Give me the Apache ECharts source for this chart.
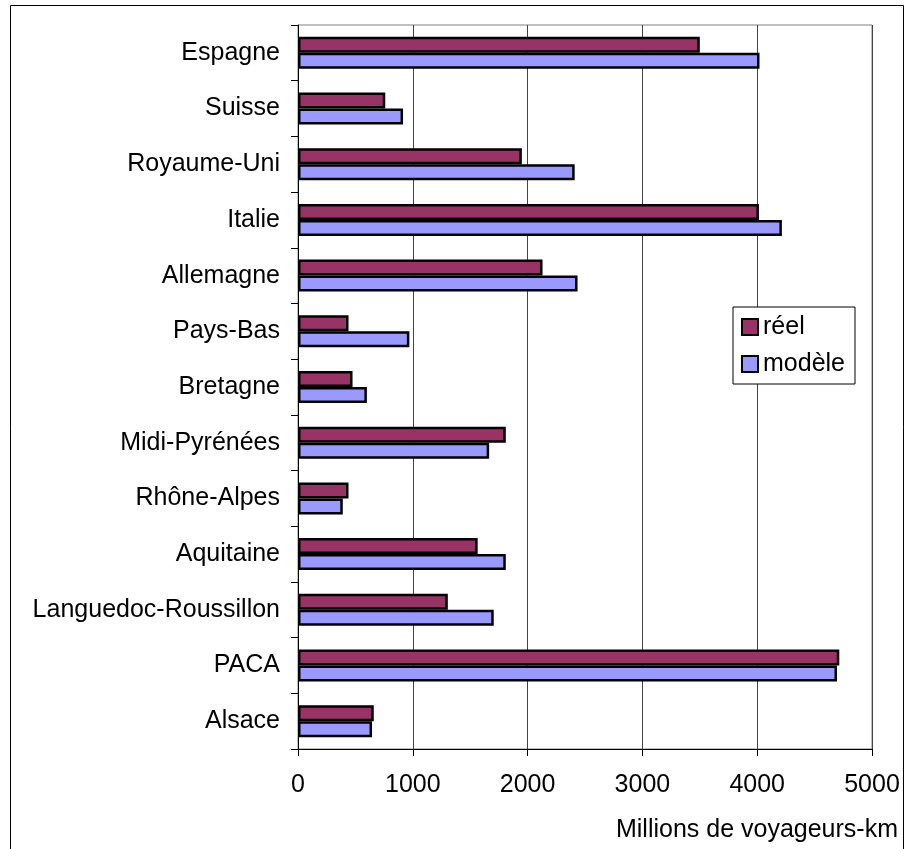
<!DOCTYPE html>
<html>
<head>
<meta charset="utf-8">
<script src="https://cdn.jsdelivr.net/npm/echarts@6/dist/echarts.min.js"></script>
<style>
  html, body { margin: 0; padding: 0; background: #fff; }
  #chart { width: 907px; height: 849px; }
</style>
</head>
<body>
<div id="chart"></div>
<script>
// Regions, listed top to bottom
const regions = ['Espagne', 'Suisse', 'Royaume-Uni', 'Italie', 'Allemagne', 'Pays-Bas',
  'Bretagne', 'Midi-Pyrénées', 'Rhône-Alpes', 'Aquitaine', 'Languedoc-Roussillon', 'PACA', 'Alsace'];

// Passenger traffic, millions of passenger-km
const reel = [3500, 760, 1950, 4015, 2130, 440, 475, 1810, 440, 1565, 1305, 4715, 660];
const modele = [4020, 915, 2410, 4215, 2435, 970, 600, 1665, 390, 1810, 1705, 4695, 645];

const xTicks = [0, 1000, 2000, 3000, 4000, 5000];
const axisTitle = 'Millions de voyageurs-km';

const FONT = '"Liberation Sans", Arial, sans-serif';
const FS = 25;
const chart = echarts.init(document.getElementById('chart'), null, { renderer: 'canvas' });

chart.setOption({
  animation: false,
  backgroundColor: '#fff',
  textStyle: { fontFamily: FONT },
  grid: {
    left: 298, right: 35, top: 25, bottom: 100,
    show: true, borderColor: '#808080', borderWidth: 1, backgroundColor: 'transparent'
  },
  legend: {
    orient: 'vertical',
    left: 733, top: 307,
    padding: [7, 10, 7, 8],
    itemGap: 11,
    itemWidth: 16, itemHeight: 16,
    icon: 'rect',
    borderColor: '#000', borderWidth: 1, backgroundColor: '#fff',
    itemStyle: { borderColor: '#000', borderWidth: 2 },
    textStyle: { fontFamily: FONT, fontSize: FS, color: '#000', lineHeight: 26 },
    data: ['réel', 'modèle']
  },
  xAxis: {
    type: 'value',
    min: xTicks[0], max: xTicks[xTicks.length - 1], interval: 1000,
    axisLine: { show: true, lineStyle: { color: '#000', width: 1 } },
    axisTick: { show: true, length: 7, lineStyle: { color: '#000' } },
    axisLabel: {
      fontFamily: FONT, fontSize: FS, color: '#000', margin: 24,
      formatter: (v) => String(v)
    },
    splitLine: { show: true, lineStyle: { color: '#444', width: 1 } }
  },
  yAxis: {
    type: 'category',
    inverse: true,
    data: regions,
    axisLine: { show: true, lineStyle: { color: '#000', width: 1 } },
    axisTick: { show: true, length: 7, lineStyle: { color: '#000' } },
    axisLabel: { fontFamily: FONT, fontSize: FS, color: '#000', margin: 18 },
    splitLine: { show: false }
  },
  series: [
    {
      name: 'réel', type: 'bar', data: reel,
      barWidth: 16, barGap: '0%',
      itemStyle: { color: '#993366', borderColor: '#000', borderWidth: 2.5 }
    },
    {
      name: 'modèle', type: 'bar', data: modele,
      barWidth: 16, barGap: '0%',
      itemStyle: { color: '#9999FF', borderColor: '#000', borderWidth: 2.5 }
    }
  ],
  graphic: [
    {
      type: 'rect', silent: true, z: 100,
      shape: { x: 10.5, y: 5.5, width: 893, height: 900 },
      style: { fill: 'none', stroke: '#000', lineWidth: 1 }
    },
    {
      type: 'text', silent: true,
      x: 898, y: 830,
      style: {
        text: axisTitle, fontFamily: FONT, fontSize: FS, fill: '#000',
        align: 'right', verticalAlign: 'middle'
      }
    }
  ]
});
</script>
</body>
</html>
